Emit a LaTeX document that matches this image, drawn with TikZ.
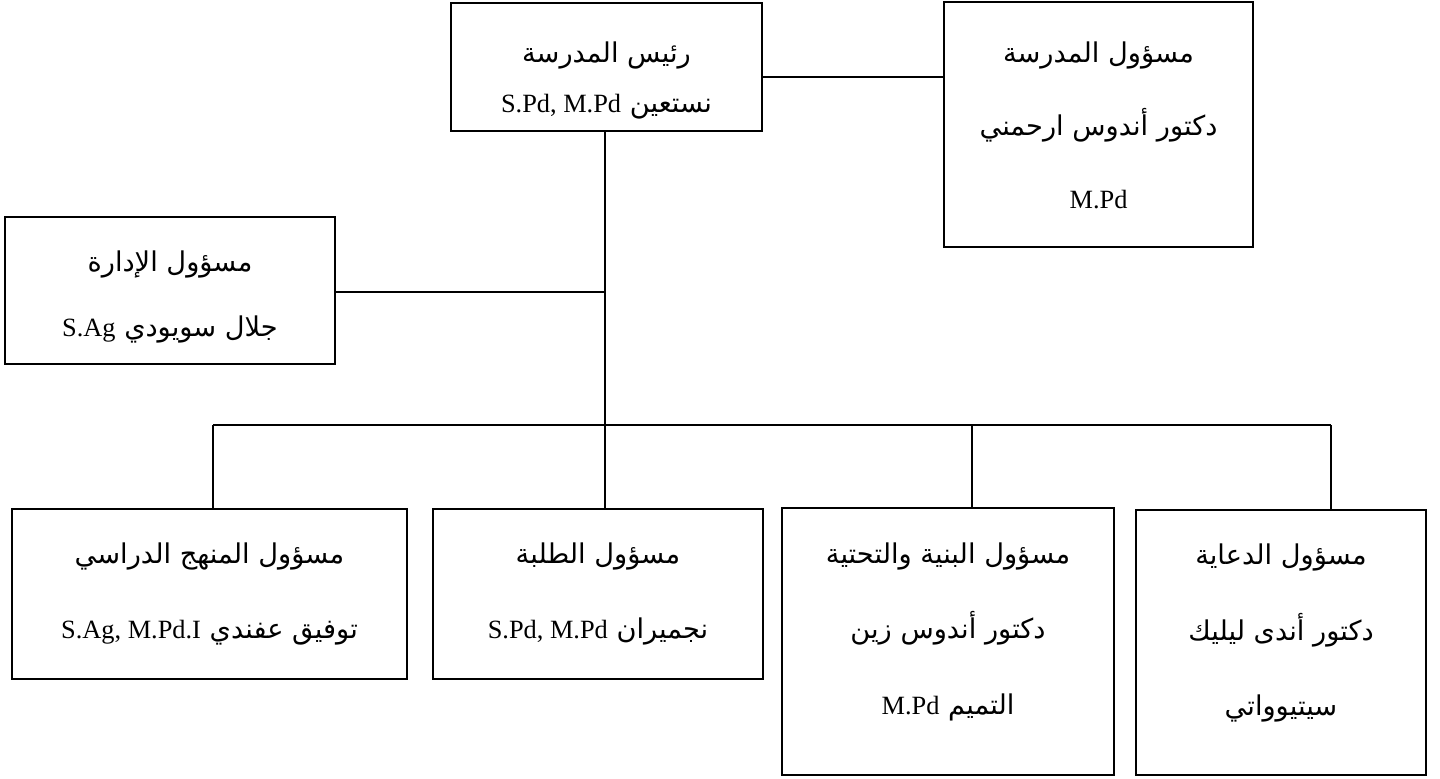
\documentclass[tikz,border=0pt]{standalone}
\usepackage{fontspec}
\setmainfont{Liberation Serif}
\newfontfamily\arabicfont[Script=Arabic]{DejaVu Sans}
\TeXXeTstate=1
\newdimen\px
\px=0.02cm
\newcommand\latn[1]{\beginL{\rmfamily\fontsize{15}{15}\selectfont #1}\endL}
\tikzset{unit/.style={draw, line width=1pt, inner sep=0pt},
	unittext/.style={align=center, inner sep=0pt, font=\arabicfont\fontsize{15.5}{#1}\selectfont}}
\begin{document}
\begin{tikzpicture}[x=0.02cm,y=-0.02cm,line width=1pt]
	\useasboundingbox (0,0) rectangle (1440,778);
	\node[unit, minimum width=311\px, minimum height=128\px] at (606.5,67) (head) {};
	\node[unit, minimum width=309\px, minimum height=245\px] at (1098.5,124.5) (school) {};
	\node[unit, minimum width=330\px, minimum height=147\px] at (170,290.5) (admin) {};
	\node[unit, minimum width=395\px, minimum height=170\px] at (209.5,594) (curr) {};
	\node[unit, minimum width=330\px, minimum height=170\px] at (598,594) (stud) {};
	\node[unit, minimum width=332\px, minimum height=267\px] at (948,641.5) (infra) {};
	\node[unit, minimum width=290\px, minimum height=265\px] at (1281,642.5) (promo) {};
	\node[unittext=28.5] at (606.5,80.5) (headtext) {\beginR رئيس المدرسة\endR\\ \beginR نستعين \latn{S.Pd, M.Pd}\endR};
	\node[unittext=41.5] at (1098.5,125) (schooltext) {\beginR مسؤول المدرسة\endR\\ \beginR دكتور أندوس ارحمني\endR\\ \latn{M.Pd}};
	\node[unittext=37] at (170,297) (admintext) {\beginR مسؤول الإدارة\endR\\ \beginR جلال سويودي \latn{S.Ag}\endR};
	\node[unittext=43] at (209.5,594) (currtext) {\beginR مسؤول المنهج الدراسي\endR\\ \beginR توفيق عفندي \latn{S.Ag, M.Pd.I}\endR};
	\node[unittext=43] at (598,594) (studtext) {\beginR مسؤول الطلبة\endR\\ \beginR نجميران \latn{S.Pd, M.Pd}\endR};
	\node[unittext=43] at (948,631.5) (infratext) {\beginR مسؤول البنية والتحتية\endR\\ \beginR دكتور أندوس زين\endR\\ \beginR التميم \latn{M.Pd}\endR};
	\node[unittext=43] at (1281,633) (promotext) {\beginR مسؤول الدعاية\endR\\ \beginR دكتور أندى ليليك\endR\\ \beginR سيتيوواتي\endR};
	\coordinate (hs) at (763,77);
	\coordinate (ad) at (335,292);
	\coordinate (b1) at (213,425);
	\coordinate (b2) at (605,425);
	\coordinate (b3) at (972,425);
	\coordinate (b4) at (1331,425);
	\path (head.east |- hs) edge (school.west |- hs)
	(b2 |- head.south) edge (b2)
	(admin.east |- ad) edge (b2 |- ad)
	(b1) edge (b4)
	(b1) edge (b1 |- curr.north)
	(b2) edge (b2 |- stud.north)
	(b3) edge (b3 |- infra.north)
	(b4) edge (b4 |- promo.north);
\end{tikzpicture}
\end{document}
